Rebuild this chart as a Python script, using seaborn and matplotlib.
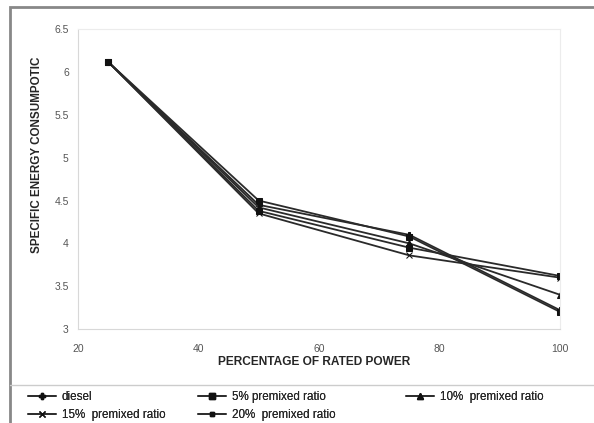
import numpy as np
import matplotlib
matplotlib.use("Agg")
import matplotlib.pyplot as plt
import pandas as pd
import seaborn as sns
from matplotlib.patches import Rectangle
from matplotlib.lines import Line2D

power = [25, 50, 75, 100]
diesel = [6.12, 4.45, 4.10, 3.22]
p5 = [6.12, 4.50, 4.08, 3.20]
p10 = [6.12, 4.42, 4.00, 3.40]
p15 = [6.12, 4.35, 3.86, 3.60]
p20 = [6.12, 4.38, 3.95, 3.62]
names = ['diesel', '5% premixed ratio', '10%  premixed ratio',
         '15%  premixed ratio', '20%  premixed ratio']
markers = ['P', 's', '^', 'x', 's']
msizes = [5, 5, 5, 5, 4]

sns.set_style("white")
plt.rcParams['font.family'] = ['Liberation Sans', 'DejaVu Sans']

df = pd.DataFrame({'power': power * 5,
                   'sec': diesel + p5 + p10 + p15 + p20,
                   'fuel': [n for n in names for _ in power]})

fig = plt.figure(figsize=(5.94, 4.23), dpi=100)
ax = fig.add_axes([0.131, 0.222, 0.812, 0.709])

for i, n in enumerate(names):
    d = df[df.fuel == n]
    sns.lineplot(data=d, x='power', y='sec', ax=ax, color='#2a2a2a',
                 linewidth=1.3, marker=markers[i], markersize=msizes[i],
                 markeredgecolor='#111111', markerfacecolor='#111111',
                 legend=False)

ax.set_xlim(20, 100)
ax.set_ylim(3, 6.5)
ax.set_xticks([20, 40, 60, 80, 100])
ax.set_yticks([3, 3.5, 4, 4.5, 5, 5.5, 6, 6.5])
ax.set_yticklabels(['3', '3.5', '4', '4.5', '5', '5.5', '6', '6.5'])
ax.tick_params(axis='both', labelsize=7.5, colors='#555555', length=3,
               direction='out', width=0.6)
ax.tick_params(axis='x', pad=8)
for s in ax.spines.values():
    s.set_color('#d8d8d8')
    s.set_linewidth(0.8)
for s in ['top', 'right']:
    ax.spines[s].set_color('#ececec')
ax.set_xlabel('PERCENTAGE OF RATED POWER', fontsize=8.6, fontweight='bold')
ax.set_ylabel('SPECIFIC ENERGY CONSUMPOTIC', fontsize=8.4, fontweight='bold')
ax.xaxis.set_label_coords(0.49, -0.09)
ax.yaxis.set_label_coords(-0.073, 0.58)

# outer chart frame and legend box
fig.patches.append(Rectangle((10 / 594, -0.01), 0.99, 1 - 7 / 423 + 0.01,
                             transform=fig.transFigure, fill=False,
                             edgecolor='#888888', linewidth=2.0))
fig.lines.append(Line2D([10 / 594, 1.0], [1 - 385 / 423] * 2,
                        transform=fig.transFigure, color='#cccccc',
                        linewidth=1.0))

handles = [Line2D([], [], color='#2a2a2a', linewidth=1.2, marker=markers[i],
                  markersize=msizes[i] - 1, markerfacecolor='#111111',
                  markeredgecolor='#111111') for i in range(5)]
columns = [([0, 3], 28 / 594), ([1, 4], 198 / 594), ([2], 406 / 594)]
for idx, x0 in columns:
    leg = fig.legend([handles[i] for i in idx], [names[i] for i in idx],
                     loc='upper left', bbox_to_anchor=(x0, 1 - 391 / 423),
                     frameon=False, fontsize=8.4, handlelength=2.4,
                     labelspacing=0.55, handletextpad=0.5, borderpad=0,
                     borderaxespad=0)
    fig.add_artist(leg)

fig.savefig('out.png', dpi=100)
